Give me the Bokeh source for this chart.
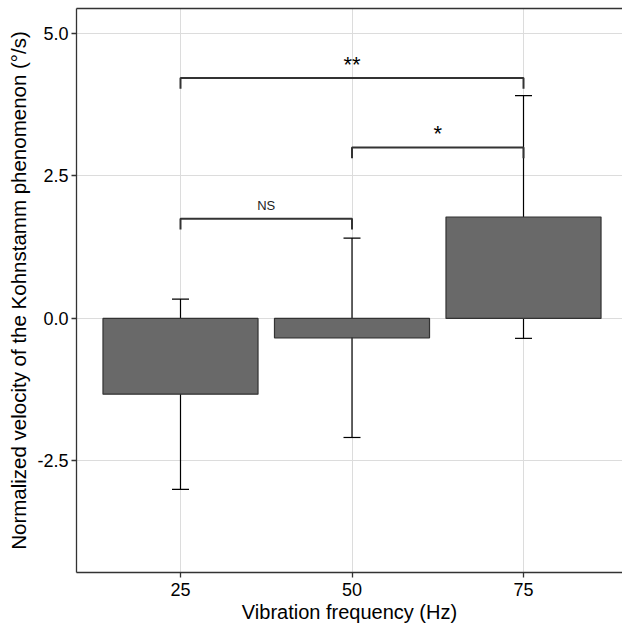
from bokeh.plotting import figure
from bokeh.models import (ColumnDataSource, Whisker, LinearAxis, FixedTicker,
                          Range1d, NumeralTickFormatter, TeeHead)
from bokeh.core.properties import value
from bokeh.embed import file_html
from bokeh.resources import INLINE

# ---- data ----
freqs = [25, 50, 75]
means = [-1.33, -0.34, 1.78]
sds = [1.67, 1.75, 2.13]
x_ticks = [25, 50, 75]
y_ticks = [-2.5, 0.0, 2.5, 5.0]
sig_x0 = [25, 50, 25]
sig_x1 = [75, 75, 50]
sig_y = [4.22, 3.0, 1.75]
sig_labels = ["**", "*", "NS"]

FONT = "Liberation Sans"
drop = 0.19

p = figure(frame_width=546, frame_height=564,
           x_range=Range1d(9.84, 89.43), y_range=Range1d(-4.46, 5.44),
           output_backend="svg", toolbar_location=None,
           min_border_left=76, min_border_right=0, min_border_top=8,
           min_border_bottom=46)
p.outline_line_color = None
p.background_fill_color = "white"
p.border_fill_color = "white"

# axes
for ax in (p.xaxis[0], p.yaxis[0]):
    ax.axis_line_color = "#333333"
    ax.axis_line_width = 1.3
    ax.major_tick_line_color = "#333333"
    ax.major_tick_line_width = 1.3
    ax.major_tick_out = 5
    ax.major_tick_in = 0
    ax.minor_tick_line_color = None
    ax.major_label_text_font = FONT
    ax.major_label_text_font_size = "18px"
    ax.major_label_text_color = "black"
    ax.axis_label_text_font = FONT
    ax.axis_label_text_font_style = "normal"
    ax.axis_label_text_color = "black"

p.xaxis.axis_label_text_font_size = "20px"
p.yaxis.axis_label_text_font_size = "20.5px"
p.xaxis.ticker = FixedTicker(ticks=x_ticks)
p.yaxis.ticker = FixedTicker(ticks=y_ticks)
p.yaxis.formatter = NumeralTickFormatter(format="0.0")
p.xaxis.axis_label = "Vibration frequency (Hz)"
p.yaxis.axis_label = "Normalized velocity of the Kohnstamm phenomenon (°/s)"
p.xaxis.major_label_standoff = 5
p.yaxis.major_label_standoff = 3
p.xaxis.axis_label_standoff = 2
p.yaxis.axis_label_standoff = 4

top_axis = LinearAxis(major_tick_line_color=None, minor_tick_line_color=None,
                      major_label_text_font_size="0px", axis_line_color="#333333",
                      axis_line_width=1.3, major_label_standoff=0)
top_axis.ticker = FixedTicker(ticks=[])
p.add_layout(top_axis, "above")

# grid
p.xgrid.ticker = FixedTicker(ticks=x_ticks)
p.ygrid.ticker = FixedTicker(ticks=y_ticks)
p.grid.grid_line_color = "#dcdcdc"
p.grid.grid_line_width = 1

# bars
lower = [m - s for m, s in zip(means, sds)]
upper = [m + s for m, s in zip(means, sds)]
src = ColumnDataSource(dict(x=freqs, top=means, lower=lower, upper=upper))
p.vbar(x="x", top="top", bottom=0, width=22.6, source=src,
       fill_color="#696969", line_color="#333333", line_width=1.2)

w = Whisker(base="x", lower="lower", upper="upper", source=src,
            line_color="black", line_width=1.2,
            upper_head=TeeHead(size=17, line_color="black", line_width=1.2),
            lower_head=TeeHead(size=17, line_color="black", line_width=1.2))
p.add_layout(w)

# significance brackets
xs = [[a, a, b, b] for a, b in zip(sig_x0, sig_x1)]
ys = [[y - drop, y, y, y - drop] for y in sig_y]
p.multi_line(xs=xs, ys=ys, line_color="#333333", line_width=2)

lab_x = [(a + b) / 2 for a, b in zip(sig_x0, sig_x1)]
p.text(x=lab_x[:2], y=[y + 0.02 for y in sig_y[:2]], text=sig_labels[:2],
       text_align="center", text_baseline="bottom",
       text_font=value(FONT), text_font_size="22px", text_color="black")
p.text(x=lab_x[2:], y=[y + 0.1 for y in sig_y[2:]], text=sig_labels[2:],
       text_align="center", text_baseline="bottom",
       text_font=value(FONT), text_font_size="13px", text_color="#222222")

open("out.html", "w").write(file_html(p, INLINE))
